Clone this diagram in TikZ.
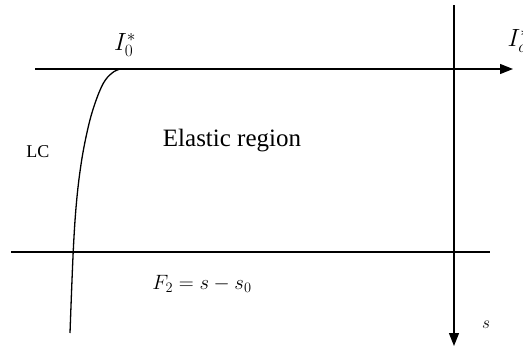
\documentclass[tikz,border=0pt]{standalone}
\usepackage{fontspec}
\setmainfont{Liberation Serif}
\usetikzlibrary{arrows.meta}

\begin{document}
\begin{tikzpicture}[x=1pt,y=-1pt,line width=1.3pt,
  axis/.style={-{Triangle[length=13pt,width=10pt]}},
  lbl/.style={inner sep=0pt,font=\fontsize{24}{28}\selectfont}]
  \clip (0,0) rectangle (523,349);
  % Ends of the axes
  \coordinate (topL) at (35,69);
  \coordinate (topR) at (513,69);
  \coordinate (sTop) at (454,5);
  \coordinate (sBot) at (454,346);
  \coordinate (botL) at (11,252);
  \coordinate (botR) at (490,252);
  % Axes and lower line
  \draw[axis] (topL) -- (topR);
  \draw[axis] (sTop) -- (sBot);
  \draw (botL) -- (botR);
  % Limit curve LC
  \draw plot[smooth,tension=0.6] coordinates {(70,333) (73.3,250) (76.7,200)
    (81.7,160) (88.3,126.7) (95,103.3) (103.3,83.3) (111.7,73.3) (120,69) (126,69)};
  % Labels
  \node[lbl] (i0) at (125,45) {$I_0^*$};
  \node[lbl,anchor=west] (i0r) at (507,41) {$I_o^*$};
  \node[lbl,font=\fontsize{18}{20}\selectfont] (lc) at (38,152) {LC};
  \node[lbl,font=\fontsize{25}{28}\selectfont] (elastic) at (232,141) {Elastic region};
  \node[lbl,font=\fontsize{21}{24}\selectfont] (f2) at (202,284) {$F_2 = s - s_0$};
  \node[lbl,font=\fontsize{18}{20}\selectfont] (s) at (486,325) {$s$};
\end{tikzpicture}
\end{document}
